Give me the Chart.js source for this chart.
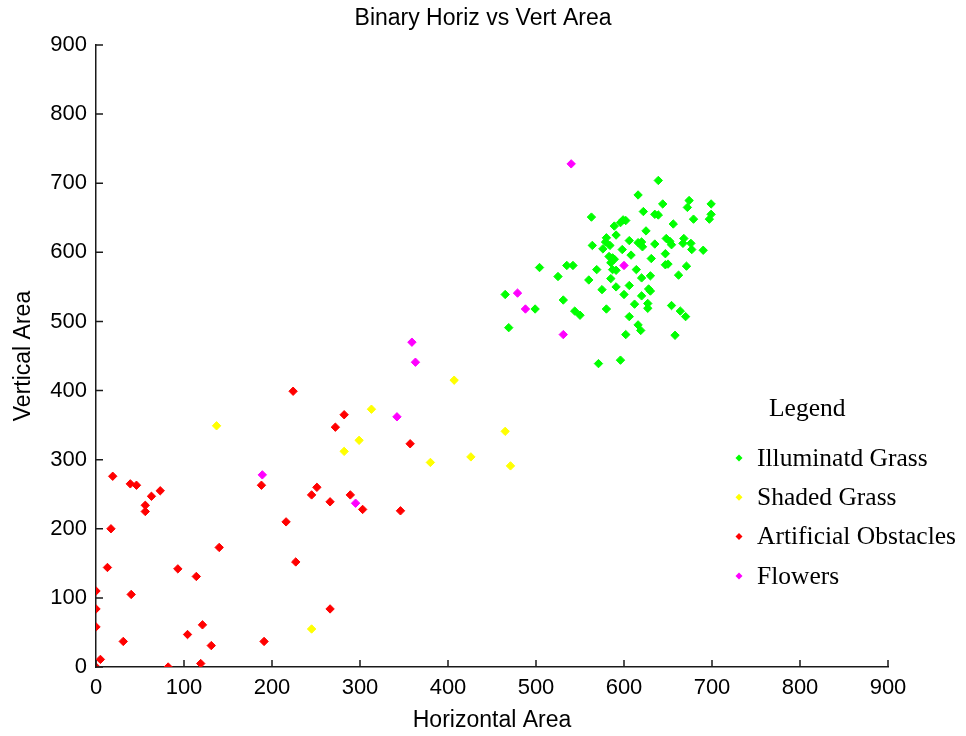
<!DOCTYPE html>
<html>
<head>
<meta charset="utf-8">
<title>Binary Horiz vs Vert Area</title>
<script src="https://cdn.jsdelivr.net/npm/chart.js@4.4.1/dist/chart.umd.min.js"></script>
<style>
    html, body { margin: 0; padding: 0; background: #ffffff; }
    #wrap { width: 966px; height: 736px; }
</style>
</head>
<body>
<div id="wrap"><canvas id="areaChart" width="966" height="736"></canvas></div>
<script>
// ===================== Data =====================
const seriesNames = ['Illuminatd Grass', 'Shaded Grass', 'Artificial Obstacles', 'Flowers'];
const seriesColors = ['#00ff00', '#ffff00', '#ff0000', '#ff00ff'];
const axisTicks = [0, 100, 200, 300, 400, 500, 600, 700, 800, 900];

const grassX = [504, 535, 542, 525, 465, 499, 531, 544, 469,
    563, 639, 616, 674, 699, 644, 672, 622, 635, 639, 699, 697, 679, 599, 602, 596, 656, 589, 625, 591,
    648, 652, 668, 580, 579, 606, 616, 620, 635, 564, 667, 676, 584, 576, 621, 654, 598, 677, 690, 647,
    608, 583, 587, 589, 631, 585, 647, 650, 671, 569, 587, 591, 614, 662, 630, 620, 560, 585, 606, 591,
    575, 628, 630, 600, 620, 612, 627, 627, 654, 664, 670, 580, 550, 606, 616, 619, 602, 658, 571, 596];
const grassY = [578, 581, 581, 565, 539, 518, 531, 515, 491,
    651, 704, 683, 675, 670, 670, 665, 659, 655, 654, 655, 648, 648, 647, 646, 643, 641, 638, 631, 625,
    620, 616, 620, 621, 615, 617, 614, 615, 612, 610, 613, 613, 610, 605, 608, 611, 604, 604, 603, 598,
    596, 594, 592, 590, 591, 585, 582, 583, 580, 575, 575, 574, 575, 567, 566, 563, 560, 562, 552, 550,
    546, 547, 544, 539, 537, 525, 526, 519, 523, 515, 507, 518, 509, 507, 495, 487, 481, 480, 439, 444];

const shadedX = [137, 313, 299, 282, 245, 407, 465, 426, 380, 471];
const shadedY = [349, 373, 328, 312, 55, 415, 341, 304, 296, 291];

const obstacleX = [19, 39, 46, 73, 63, 56, 56, 188, 17, 140, 13, 93, 114, 0, 40, 0, 0, 121, 104, 31,
    131, 191, 5, 0, 82, 119, 224, 282, 272, 251, 245, 266, 289, 303, 216, 227, 266, 357, 346];
const obstacleY = [276, 265, 263, 255, 247, 234, 225, 263, 200, 173, 144, 142, 131, 110, 105, 84, 58, 61, 47, 37,
    31, 37, 11, 0, 0, 5, 399, 365, 347, 260, 249, 239, 249, 228, 210, 152, 84, 323, 226];

const flowerX = [189, 295, 342, 359, 363, 540, 479, 488, 531, 600];
const flowerY = [278, 237, 362, 470, 441, 728, 541, 518, 481, 581];

const seriesX = [grassX, shadedX, obstacleX, flowerX];
const seriesY = [grassY, shadedY, obstacleY, flowerY];

// ===================== Helpers =====================
const sansFont = "'Liberation Sans', Arial, sans-serif";
const serifFont = "'Liberation Serif', 'Times New Roman', serif";
const axisColor = '#1a1a1a';

function pointsOf(xs, ys) {
    return xs.map((x, i) => ({ x: x, y: ys[i] }));
}

// ticks drawn inward, like the original plot
const innerTicks = {
    id: 'innerTicks',
    afterDraw(chart) {
        const { ctx, chartArea, scales } = chart;
        const len = 7;
        ctx.save();
        ctx.strokeStyle = axisColor;
        ctx.lineWidth = 1.5;
        ctx.beginPath();
        scales.x.ticks.forEach(t => {
            const px = scales.x.getPixelForValue(t.value);
            ctx.moveTo(px, chartArea.bottom);
            ctx.lineTo(px, chartArea.bottom - len);
        });
        scales.y.ticks.forEach(t => {
            const py = scales.y.getPixelForValue(t.value);
            ctx.moveTo(chartArea.left, py);
            ctx.lineTo(chartArea.left + len, py);
        });
        ctx.stroke();
        ctx.restore();
    }
};

// legend on the right, serif text like the original
const sideLegend = {
    id: 'sideLegend',
    afterDraw(chart) {
        const { ctx } = chart;
        const left = 739;
        const firstRow = 458;
        const rowGap = 39.3;
        ctx.save();
        ctx.fillStyle = '#000000';
        ctx.font = '25.5px ' + serifFont;
        ctx.textBaseline = 'middle';
        ctx.textAlign = 'left';
        ctx.fillText('Legend', 769, 409);
        chart.data.datasets.forEach((ds, i) => {
            const y = firstRow + i * rowGap;
            ctx.fillStyle = ds.backgroundColor;
            ctx.beginPath();
            ctx.moveTo(left - 3.5, y);
            ctx.lineTo(left, y - 3.5);
            ctx.lineTo(left + 3.5, y);
            ctx.lineTo(left, y + 3.5);
            ctx.closePath();
            ctx.fill();
            ctx.fillStyle = '#000000';
            ctx.fillText(ds.label, left + 18, y + 1);
        });
        ctx.restore();
    }
};

// ===================== Chart =====================
const ctx = document.getElementById('areaChart').getContext('2d');

const areaChart = new Chart(ctx, {
    type: 'scatter',
    data: {
        datasets: seriesNames.map((name, i) => ({
            label: name,
            data: pointsOf(seriesX[i], seriesY[i]),
            pointStyle: 'rectRot',
            pointRadius: 4.2,
            pointHoverRadius: 4.2,
            borderWidth: 1,
            backgroundColor: seriesColors[i],
            borderColor: seriesColors[i],
            order: seriesNames.length - i
        }))
    },
    options: {
        responsive: false,
        animation: false,
        devicePixelRatio: 1,
        layout: {
            padding: { left: 0, right: 0, top: 0, bottom: 2 }
        },
        plugins: {
            legend: { display: false },
            tooltip: { enabled: false },
            title: {
                display: true,
                text: 'Binary Horiz vs Vert Area',
                color: '#000000',
                font: { family: sansFont, size: 23, weight: 'normal' },
                padding: { top: 5, bottom: 12.4 }
            }
        },
        scales: {
            x: {
                type: 'linear',
                min: 0,
                max: 900,
                afterBuildTicks: scale => {
                    scale.ticks = axisTicks.map(v => ({ value: v }));
                },
                afterFit: scale => { scale.height = 67; },
                grid: { display: false, drawTicks: false },
                border: { display: true, color: axisColor, width: 1.5 },
                ticks: {
                    color: '#000000',
                    padding: 8,
                    maxRotation: 0,
                    font: { family: sansFont, size: 22 }
                },
                title: {
                    display: true,
                    text: 'Horizontal Area',
                    color: '#000000',
                    font: { family: sansFont, size: 23 },
                    padding: { top: 0, bottom: 0 }
                }
            },
            y: {
                type: 'linear',
                min: 0,
                max: 900,
                afterBuildTicks: scale => {
                    scale.ticks = axisTicks.map(v => ({ value: v }));
                },
                afterFit: scale => { scale.width = 96; },
                grid: { display: false, drawTicks: false },
                border: { display: true, color: axisColor, width: 1.5 },
                ticks: {
                    color: '#000000',
                    padding: 9,
                    font: { family: sansFont, size: 22 }
                },
                title: {
                    display: true,
                    text: 'Vertical Area',
                    color: '#000000',
                    font: { family: sansFont, size: 23 },
                    padding: { top: 10, bottom: 0 }
                }
            },
            // empty right-hand axis keeping the margin the legend text runs into
            yRight: {
                type: 'linear',
                position: 'right',
                min: 0,
                max: 900,
                afterFit: scale => { scale.width = 78; },
                grid: { display: false, drawTicks: false },
                border: { display: false },
                ticks: { display: false }
            }
        }
    },
    plugins: [innerTicks, sideLegend]
});
</script>
</body>
</html>
